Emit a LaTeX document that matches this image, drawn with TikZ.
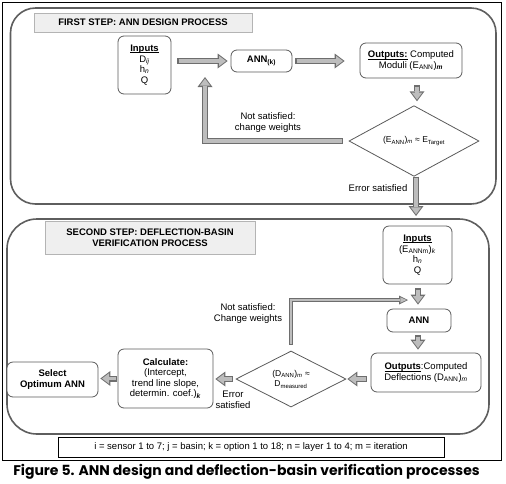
\documentclass[tikz,border=0pt]{standalone}
\usepackage{fontspec}
\setmainfont{Liberation Sans}
\newfontfamily\capfont{Poppins}
\usetikzlibrary{shapes.geometric,arrows.meta,calc}
\definecolor{panel}{HTML}{5E5E5E}
\definecolor{boxline}{HTML}{5A5A5A}
\definecolor{titlefill}{HTML}{EFEFEF}
\definecolor{titleline}{HTML}{B4B4B4}
\definecolor{arrline}{HTML}{6E6E6E}
\definecolor{arrfill}{HTML}{BDBDBD}
\newcommand\sub[1]{\textsubscript{#1}}
\newcommand\ulin[1]{\sbox0{#1}\rlap{\rule[-1.4pt]{\wd0}{0.55pt}}\usebox0}
\tikzset{
  box/.style={draw=boxline, line width=0.8pt, rounded corners=6pt, fill=white, align=center, inner sep=1pt, font=\fontsize{9.5}{10.5}\selectfont},
  dia/.style={draw=boxline, line width=0.8pt, diamond, fill=white, align=center, inner sep=0pt, font=\fontsize{8.5}{10.5}\selectfont},
  titlebox/.style={draw=titleline, fill=titlefill, line width=0.6pt, align=center, inner sep=1pt, font=\bfseries\fontsize{9.5}{11}\selectfont},
  lbl/.style={align=center, inner sep=0pt, font=\fontsize{9.5}{11}\selectfont},
  panelbox/.style={draw=panel, line width=1.6pt},
  barrow/.style={draw=arrline, line width=6pt, -{Triangle[width=15pt,length=10pt,line width=0pt]},
    postaction={draw=arrfill, line width=3.8pt, shorten <=1.1pt, shorten >=1.6pt, -{Triangle[width=10.5pt,length=7pt,line width=0pt]}}},
  tarrow/.style={draw=arrline, line width=3.6pt, -{Triangle[width=9pt,length=9pt,line width=0pt]},
    postaction={draw=arrfill, line width=1.8pt, shorten <=0.9pt, shorten >=1.6pt, -{Triangle[width=5.5pt,length=6pt,line width=0pt]}}},
}
\begin{document}
\begin{tikzpicture}[x=1pt,y=-1pt]
\useasboundingbox (0,0) rectangle (506,483);
% outer frame
\draw[black, line width=0.9pt] (2,2) rectangle (501,460);
% panels
\draw[panelbox, rounded corners=25pt] (10.5,8) rectangle (496,204);
\draw[panelbox, rounded corners=30pt] (7,219) rectangle (489,434);
% titles
\node[titlebox, minimum width=218pt, minimum height=19pt] (t1) at (143,22.5) {FIRST STEP: ANN DESIGN PROCESS};
\node[titlebox, minimum width=210pt, minimum height=33pt] (t2) at (150,237.5) {SECOND STEP: DEFLECTION-BASIN\\VERIFICATION PROCESS};
% first step nodes
\node[box, minimum width=53pt, minimum height=58pt] (in1) at (144.5,65) {\ulin{\textbf{Inputs}}\\D\sub{\textit{ij}}\\h\sub{\textit{n}}\\Q};
\node[box, minimum width=61pt, minimum height=22pt] (ann1) at (261.5,61) {\textbf{ANN\sub{(k)}}};
\node[box, minimum width=102pt, minimum height=35pt] (out1) at (411,60.5) {\ulin{\textbf{Outputs:}} Computed\\Moduli (E\sub{ANN})\sub{\textbf{\textit{m}}}};
\node[dia, minimum width=130pt, minimum height=48pt] (d1) at (414,141) {(E\sub{ANN})\sub{\textit{m}} ≈ E\sub{Target}};
\coordinate (fb1tip) at (205,77);
\coordinate (d1tip) at (416,216);
\node[lbl] (ns1) at (268,123) {Not satisfied:\\change weights};
\node[lbl] (es1) at (378,188) {Error satisfied};
% second step nodes
\node[box, minimum width=69pt, minimum height=58pt] (in2) at (417.5,255) {\ulin{\textbf{Inputs}}\\(E\sub{ANNm})\sub{\textit{k}}\\h\sub{\textit{n}}\\Q};
\node[box, minimum width=64pt, minimum height=23pt] (ann2) at (419,320.5) {\textbf{ANN}};
\node[box, minimum width=110pt, minimum height=39pt] (out2) at (426,372.5) {\ulin{\textbf{Outputs}}:Computed\\Deflections (D\sub{ANN})\sub{\textit{m}}};
\node[dia, minimum width=110pt, minimum height=56pt] (d2) at (291,379) {(D\sub{ANN})\sub{\textit{m}} ≈\\D\sub{measured}};
\node[box, minimum width=95pt, minimum height=59pt] (calc) at (165.5,378.5) {\textbf{Calculate:}\\(Intercept,\\trend line slope,\\determin. coef.)\sub{\textbf{\textit{k}}}};
\node[box, minimum width=91pt, minimum height=35pt] (sel) at (52.5,379.5) {\textbf{Select}\\\textbf{Optimum ANN}};
\coordinate (fb2tip) at (408,300);
\node[lbl] (ns2) at (248,314) {Not satisfied:\\Change weights};
\node[lbl] (es2) at (233,399.5) {Error\\satisfied};
% legend and caption
\node[draw=black, line width=0.6pt, fill=white, minimum width=386pt, minimum height=20pt, inner sep=0pt, font=\fontsize{9.5}{11}\selectfont] (leg) at (251,447) {i = sensor 1 to 7; j = basin; k = option 1 to 18; n = layer 1 to 4; m = iteration};
\node[inner sep=0pt, font=\capfont\bfseries\fontsize{14}{16}\selectfont] (cap) at (246.5,472) {Figure 5. ANN design and deflection-basin verification processes};
% arrows first step
\draw[barrow] ($(in1.east |- ann1.west)+(6,0)$) -- ($(ann1.west)+(-3,0)$);
\draw[barrow] ($(ann1.east)+(3,0)$) -- ($(out1.west |- ann1.east)+(-15,0)$);
\draw[barrow] ($(d1.north |- out1.south)+(3,7)$) -- ($(d1.north)+(3,-4)$);
\draw[barrow] ($(d1.west)+(-6,0)$) -| (fb1tip);
\draw[barrow] ($(d1.south)+(2,0)$) -- (d1tip);
% arrows second step
\draw[barrow] ($(ann2.north |- in2.south)+(-1,4)$) -- ($(ann2.north)+(-1,-4)$);
\draw[tarrow] ($(d2.north)+(0,-6)$) |- (fb2tip);
\draw[barrow] ($(ann2.south)+(-1,3)$) -- ($(ann2.south |- out2.north)+(-1,-3)$);
\draw[barrow] ($(out2.west |- d2.east)+(-4,0)$) -- ($(d2.east)+(1,0)$);
\draw[barrow] ($(d2.west)+(-3,0)$) -- ($(calc.east |- d2.west)+(2,0)$);
\draw[barrow] ($(calc.west)+(-1,0)$) -- ($(sel.east |- calc.west)+(2,0)$);
\end{tikzpicture}
\end{document}
